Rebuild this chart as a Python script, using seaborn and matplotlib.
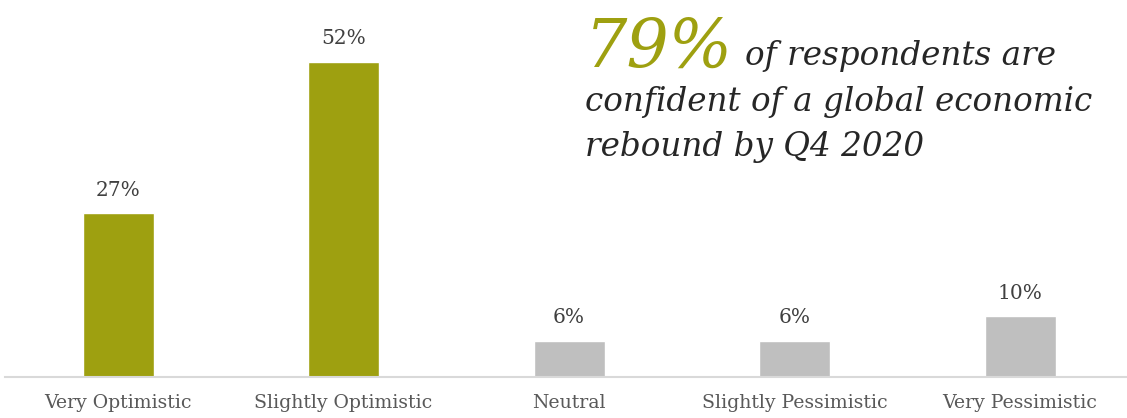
import matplotlib
matplotlib.use("Agg")
import matplotlib.pyplot as plt
import seaborn as sns
import pandas as pd

# Survey results: outlook on a global economic rebound
categories = ["Very Optimistic", "Slightly Optimistic", "Neutral",
              "Slightly Pessimistic", "Very Pessimistic"]
shares = [27, 52, 6, 6, 10]
value_labels = ["27%", "52%", "6%", "6%", "10%"]
headline_value = "79%"
headline_text = ["of respondents are", "confident of a global economic", "rebound by Q4 2020"]

OLIVE = "#9ea010"
GREY = "#bfbfbf"
bar_colors = [OLIVE, OLIVE, GREY, GREY, GREY]

sns.set_style("white")
plt.rcParams["font.family"] = ["DejaVu Serif"]

df = pd.DataFrame({"category": categories, "share": shares})

fig = plt.figure(figsize=(11.27, 4.18), dpi=100)
ax = fig.add_axes([0.0047, 0.098, 0.9945, 0.87])

sns.barplot(data=df, x="category", y="share", hue="category",
            palette=dict(zip(categories, bar_colors)), order=categories,
            width=0.315, legend=False, saturation=1, ax=ax)

for patch, label in zip(ax.patches, value_labels):
    ax.annotate(label, (patch.get_x() + patch.get_width() / 2, patch.get_height()),
                xytext=(0, 10), textcoords="offset points", ha="center", va="bottom",
                fontsize=14.5, color="#404040")

ax.set_xlim(-0.5, 4.47)
ax.set_ylim(0, 60)
ax.set_xlabel("")
ax.set_ylabel("")
ax.set_yticks([])
for side in ["top", "right", "left"]:
    ax.spines[side].set_visible(False)
ax.spines["bottom"].set_color("#d9d9d9")
ax.spines["bottom"].set_linewidth(1.5)
ax.tick_params(axis="x", length=0, pad=12, labelsize=13.6, labelcolor="#595959")

# Headline callout
fig.text(585 / 1127, 1 - 67 / 418, headline_value, fontsize=48, style="italic",
         color=OLIVE, ha="left", va="baseline")
fig.text(745 / 1127, 1 - 65 / 418, headline_text[0], fontsize=23.5, style="italic",
         color="#262626", ha="left", va="baseline")
fig.text(585 / 1127, 1 - 111 / 418, headline_text[1], fontsize=23.5, style="italic",
         color="#262626", ha="left", va="baseline")
fig.text(585 / 1127, 1 - 156 / 418, headline_text[2], fontsize=23.5, style="italic",
         color="#262626", ha="left", va="baseline")

fig.savefig("out.png", dpi=100, facecolor="white")
